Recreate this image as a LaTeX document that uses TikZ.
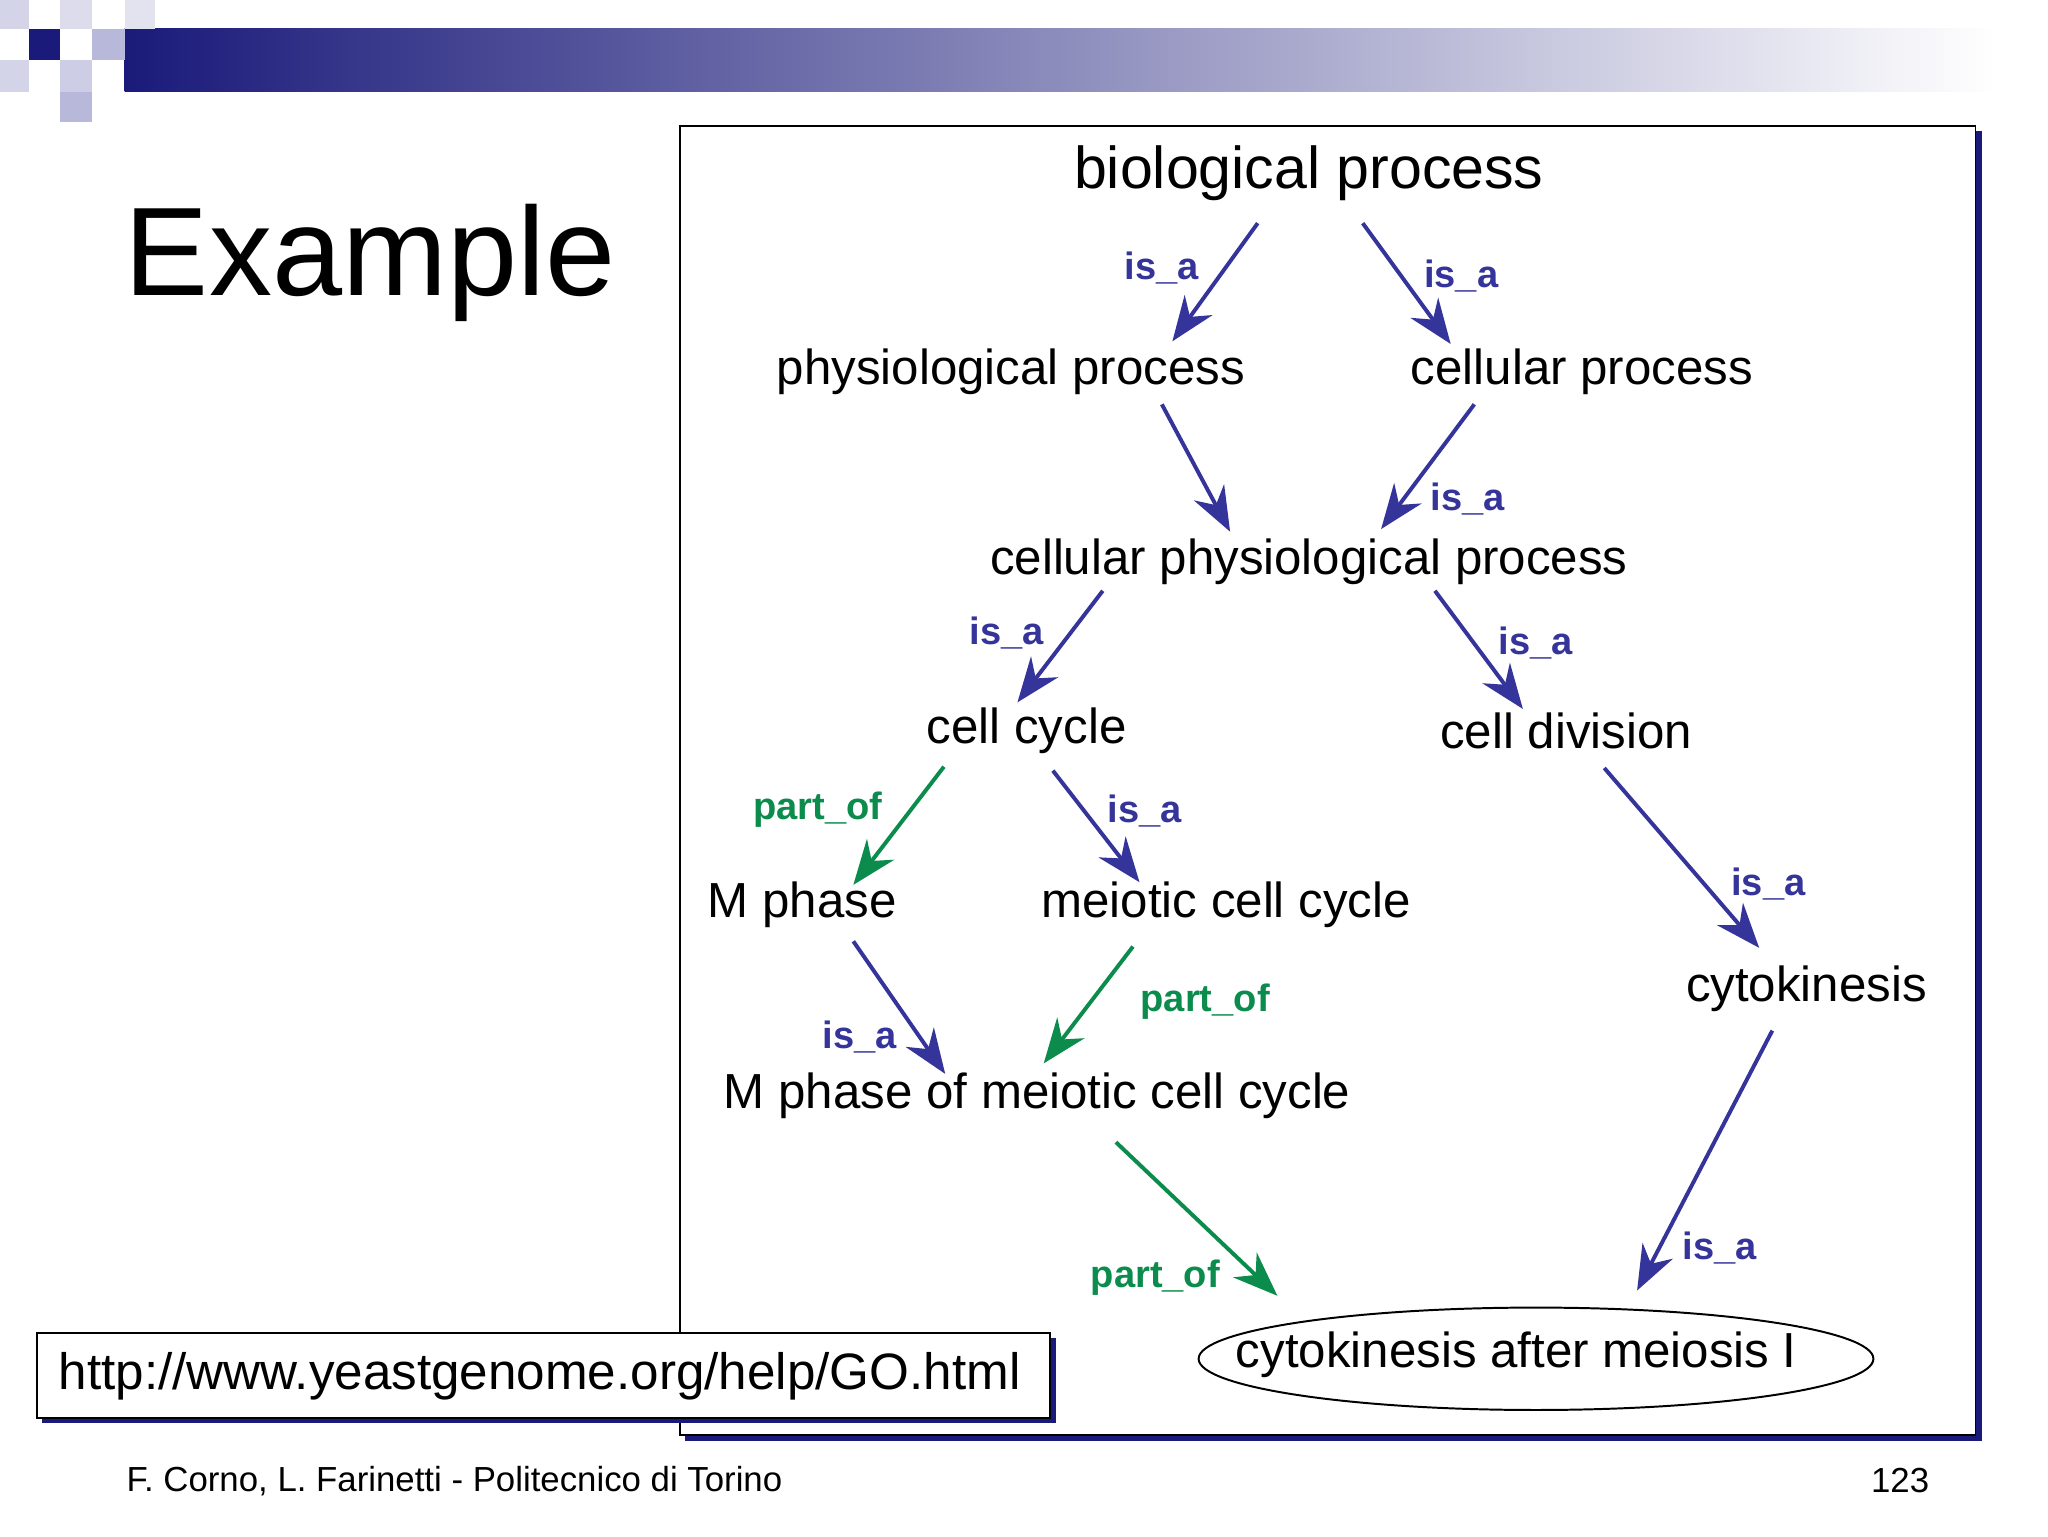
\documentclass[tikz,border=0pt]{standalone}
\usepackage{fontspec}
\setmainfont{Liberation Sans}
\usetikzlibrary{arrows.meta,shapes.geometric}
\definecolor{gblue}{HTML}{34349A}
\definecolor{ggreen}{HTML}{0B8C4C}
\definecolor{navy}{HTML}{1A1A7A}
\definecolor{lav}{HTML}{B8B8DA}
\tikzset{
 term/.style={font=\fontsize{37.5}{40}\selectfont, inner sep=0pt},
 isa/.style={draw=gblue, line width=3pt, -{Stealth[length=34pt,width=26pt]}},
 partof/.style={draw=ggreen, line width=3pt, -{Stealth[length=34pt,width=26pt]}},
 lblue/.style={text=gblue, font=\bfseries\fontsize{29}{30}\selectfont},
 lgreen/.style={text=ggreen, font=\bfseries\fontsize{29}{30}\selectfont},
}
\begin{document}
\begin{tikzpicture}[x=1pt,y=-1pt]
\useasboundingbox (0,0) rectangle (1560,1170);
\fill[white] (0,0) rectangle (1560,1170);
% header decoration
\shade[left color=navy, right color=white] (95,22) rectangle (1520,70);
\fill[lav!60] (0,0) rectangle (22,22);
\fill[lav!60] (0,46) rectangle (22,70);
\fill[lav!50] (46,0) rectangle (70,22);
\fill[lav] (70,22) rectangle (95,46);
\fill[lav!70] (46,46) rectangle (70,70);
\fill[lav] (46,70) rectangle (70,93);
\fill[lav!40] (95,0) rectangle (118,22);
\fill[navy] (22,22) rectangle (46,46);
\node[anchor=west, font=\fontsize{96}{100}\selectfont, inner sep=0pt] (title) at (95,200) {Example};
% frame
\fill[navy] (522,100) rectangle (1510,1098);
\draw[fill=white, line width=1pt] (518,96) rectangle (1505,1093);
% url box
\fill[navy] (32,1019) rectangle (804,1084);
\draw[fill=white, line width=1.5pt] (28,1015) rectangle (800,1080);
\node[font=\fontsize{39}{42}\selectfont] (url) at (411,1048) {http://www.yeastgenome.org/help/GO.html};
\node[anchor=west, font=\fontsize{26.5}{28}\selectfont] (foot) at (93,1128) {F. Corno, L. Farinetti - Politecnico di Torino};
\node[anchor=east, font=\fontsize{26.5}{28}\selectfont] (pg) at (1473,1128) {123};
% terms
\node[term, font=\fontsize{45}{48}\selectfont] (bp) at (997,132) {biological process};
\node[term] (pp) at (770,283) {physiological process};
\node[term] (cp) at (1205,283) {cellular process};
\node[term] (cpp) at (997,428) {cellular physiological process};
\node[term] (cc) at (782,557) {cell cycle};
\node[term] (cd) at (1193,557) {cell division};
\node[term] (mp) at (611,689) {M phase};
\node[term] (mcc) at (934,689) {meiotic cell cycle};
\node[term] (ck) at (1376,753) {cytokinesis};
\node[term] (mpm) at (790,835) {M phase of meiotic cell cycle};
\coordinate (ckc) at (1170,1035);
\draw[line width=1.5pt] (ckc) ellipse (257 and 39);
\node[term] (ckm) at (1155,1032) {cytokinesis after meiosis I};
% endpoints
\foreach \n/\x/\y in {a1/958/170,a2/893/260,b1/1038/170,b2/1105/262,c1/885/308,c2/937/405,
 d1/1123/308,d2/1052/403,e1/840/450,e2/775/535,f1/1093/450,f2/1160/540,g1/719/584,g2/650/674,
 h1/802/587,h2/868/672,i1/1222/585,i2/1340/722,j1/650/717,j2/720/818,k1/863/721,k2/795/810,
 l1/850/870,l2/973/987,m1/1350/785,m2/1247/983}
 \coordinate (\n) at (\x,\y);
\draw[isa] (a1) -- (a2);
\draw[isa] (b1) -- (b2);
\draw[isa] (c1) -- (c2);
\draw[isa] (d1) -- (d2);
\draw[isa] (e1) -- (e2);
\draw[isa] (f1) -- (f2);
\draw[partof] (g1) -- (g2);
\draw[isa] (h1) -- (h2);
\draw[isa] (i1) -- (i2);
\draw[isa] (j1) -- (j2);
\draw[partof] (k1) -- (k2);
\draw[partof] (l1) -- (l2);
\draw[isa] (m1) -- (m2);
% labels
\node[lblue] (t1) at (885,204) {is\_a};
\node[lblue] (t2) at (1113,210) {is\_a};
\node[lblue] (t4) at (1118,380) {is\_a};
\node[lblue] (t5) at (767,482) {is\_a};
\node[lblue] (t6) at (1170,490) {is\_a};
\node[lgreen] (t7) at (623,617) {part\_of};
\node[lblue] (t8) at (872,618) {is\_a};
\node[lblue] (t9) at (1347,673) {is\_a};
\node[lblue] (t10) at (655,790) {is\_a};
\node[lgreen] (t11) at (918,763) {part\_of};
\node[lgreen] (t12) at (880,973) {part\_of};
\node[lblue] (t13) at (1310,951) {is\_a};
\end{tikzpicture}
\end{document}
